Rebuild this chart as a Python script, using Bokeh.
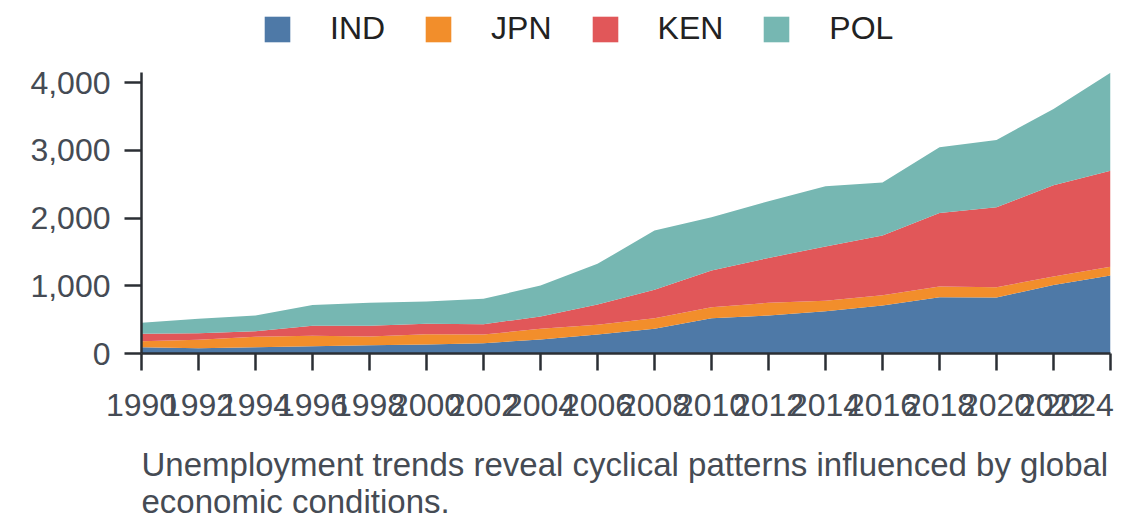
from bokeh.plotting import figure
from bokeh.layouts import column
from bokeh.models import (ColumnDataSource, Range1d, FixedTicker, NumeralTickFormatter,
                          Legend, LegendItem, Title)
from bokeh.embed import file_html
from bokeh.resources import INLINE

years = [1990, 1992, 1994, 1996, 1998, 2000, 2002, 2004, 2006, 2008,
         2010, 2012, 2014, 2016, 2018, 2020, 2022, 2024]
IND = [93, 78, 93, 108, 123, 133, 152, 207, 280, 364, 521, 561, 625, 708, 831, 827, 1010, 1152]
JPN = [89, 124, 153, 153, 128, 152, 128, 157, 143, 157, 163, 187, 153, 153, 158, 152, 128, 130]
KEN = [108, 98, 84, 147, 157, 153, 153, 182, 300, 419, 541, 664, 801, 881, 1087, 1181, 1345, 1418]
POL = [163, 212, 231, 310, 340, 329, 374, 458, 601, 875, 787, 836, 891, 782, 969, 994, 1128, 1445]
series = ["IND", "JPN", "KEN", "POL"]
colors = ["#4e79a7", "#f28e2b", "#e15759", "#76b7b2"]
y_ticks = [0, 1000, 2000, 3000, 4000]
caption = "Unemployment trends reveal cyclical patterns influenced by global\neconomic conditions."

source = ColumnDataSource(dict(year=years, IND=IND, JPN=JPN, KEN=KEN, POL=POL))

FONT = "Liberation Sans"
TXT = "#454b54"
AX = "#2b2f34"

# legend strip (its frame is aligned with the chart frame by the column layout)
lf = figure(width=1140, height=60, output_backend="svg", toolbar_location=None,
            x_axis_type=None, y_axis_type=None, min_border=0,
            x_range=Range1d(0, 1), y_range=Range1d(0, 1))
lf.outline_line_color = None
lf.xgrid.visible = False
lf.ygrid.visible = False
# proxy renderers for the legend; the data lie outside this strip's ranges
lrs = [lf.varea(x="year", y1=0, y2=s, color=c, source=source) for s, c in zip(series, colors)]
legend = Legend(items=[LegendItem(label=s, renderers=[r]) for s, r in zip(series, lrs)],
                orientation="horizontal", location=(120, 13),
                glyph_width=32, glyph_height=32, label_standoff=37, spacing=37,
                label_text_font=FONT, label_text_font_size="32px", label_text_color="#222222",
                border_line_color=None, background_fill_alpha=0, padding=0, margin=0)
lf.add_layout(legend, "center")

# main chart
p = figure(frame_width=969, frame_height=281, output_backend="svg", toolbar_location=None,
           x_range=Range1d(1990, 2024), y_range=Range1d(0, 4150),
           min_border_left=141, min_border_right=30, min_border_top=12, min_border_bottom=10)
p.outline_line_color = None
p.xgrid.visible = False
p.ygrid.visible = False

p.varea_stack(stackers=series, x="year", color=colors, source=source)

for ax in (p.xaxis[0], p.yaxis[0]):
    ax.axis_line_color = AX
    ax.axis_line_width = 2.5
    ax.major_tick_line_color = AX
    ax.major_tick_line_width = 2.5
    ax.major_tick_in = 0
    ax.major_tick_out = 17
    ax.minor_tick_line_color = None
    ax.major_label_text_font = FONT
    ax.major_label_text_font_size = "32px"
    ax.major_label_text_color = TXT

p.xaxis.ticker = FixedTicker(ticks=years)
p.xaxis.major_label_overrides = {2024: "2024" + "\u00a0" * 3}
p.xaxis.major_label_standoff = 16
p.yaxis.ticker = FixedTicker(ticks=y_ticks)
p.yaxis.formatter = NumeralTickFormatter(format="0,0")
p.yaxis.major_label_standoff = 14

t = Title(text=caption, align="left", text_font=FONT, text_font_size="33px",
          text_font_style="normal", text_color=TXT, text_line_height=1.0, standoff=36)
p.add_layout(t, "below")

open("out.html", "w").write(file_html(column(lf, p, spacing=0), INLINE))
